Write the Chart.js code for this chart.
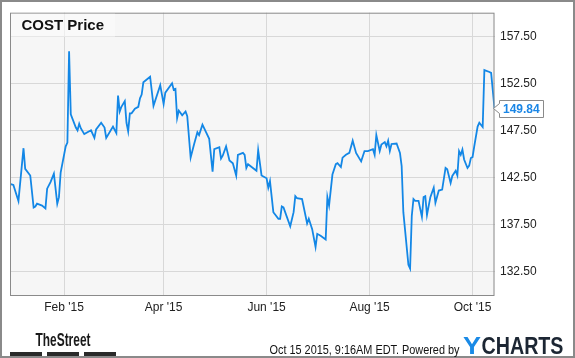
<!DOCTYPE html>
<html>
<head>
<meta charset="utf-8">
<script src="https://cdn.jsdelivr.net/npm/chart.js@4.4.1/dist/chart.umd.min.js"></script>
<style>
html,body{margin:0;padding:0;background:#fff;}
#wrap{position:relative;width:575px;height:358px;}
</style>
</head>
<body>
<div id="wrap"><canvas id="c"></canvas></div>
<script>
const title = "COST Price";
const lastLabel = "149.84";
const footerText = "Oct 15 2015, 9:16AM EDT. Powered by";

const dates = [
"2014-12-31","2015-01-02","2015-01-05","2015-01-08","2015-01-09","2015-01-12","2015-01-14","2015-01-15","2015-01-16","2015-01-19",
"2015-01-21","2015-01-22","2015-01-24","2015-01-26","2015-01-28","2015-01-29","2015-01-30","2015-02-02","2015-02-03","2015-02-04",
"2015-02-05","2015-02-08","2015-02-09","2015-02-10","2015-02-11","2015-02-13","2015-02-17","2015-02-19","2015-02-20","2015-02-23",
"2015-02-25","2015-02-26","2015-03-02","2015-03-04","2015-03-05","2015-03-06","2015-03-07","2015-03-09","2015-03-10","2015-03-11",
"2015-03-12","2015-03-13","2015-03-15","2015-03-17","2015-03-18","2015-03-19","2015-03-20","2015-03-24","2015-03-26","2015-03-30",
"2015-04-01","2015-04-02","2015-04-06","2015-04-07","2015-04-08","2015-04-09","2015-04-10","2015-04-12","2015-04-14","2015-04-15",
"2015-04-17","2015-04-19","2015-04-21","2015-04-22","2015-04-24","2015-04-28","2015-04-30","2015-05-01","2015-05-04","2015-05-05",
"2015-05-06","2015-05-08","2015-05-10","2015-05-12","2015-05-14","2015-05-15","2015-05-18","2015-05-19","2015-05-20","2015-05-21",
"2015-05-26","2015-05-27","2015-05-29","2015-06-01","2015-06-02","2015-06-03","2015-06-05","2015-06-08","2015-06-09","2015-06-10",
"2015-06-11","2015-06-15","2015-06-17","2015-06-18","2015-06-19","2015-06-22","2015-06-25","2015-06-26","2015-06-28","2015-06-30",
"2015-07-01","2015-07-03","2015-07-06","2015-07-07","2015-07-08","2015-07-10","2015-07-12","2015-07-13","2015-07-15","2015-07-16",
"2015-07-18","2015-07-20","2015-07-22","2015-07-24","2015-07-27","2015-07-29","2015-07-31","2015-08-03","2015-08-04","2015-08-05",
"2015-08-07","2015-08-08","2015-08-10","2015-08-11","2015-08-12","2015-08-13","2015-08-14","2015-08-17","2015-08-19","2015-08-20",
"2015-08-21","2015-08-24","2015-08-25","2015-08-26","2015-08-27","2015-08-28","2015-08-30","2015-09-01","2015-09-02","2015-09-03",
"2015-09-04","2015-09-06","2015-09-08","2015-09-09","2015-09-11","2015-09-13","2015-09-15","2015-09-16","2015-09-18","2015-09-19",
"2015-09-21","2015-09-22","2015-09-23","2015-09-24","2015-09-25","2015-09-26","2015-09-28","2015-09-29","2015-09-30","2015-10-01",
"2015-10-02","2015-10-04","2015-10-05","2015-10-07","2015-10-08","2015-10-11","2015-10-12","2015-10-14"
];
const prices = [
141.8,141.7,140.0,145.6,143.4,142.7,139.3,139.4,139.7,139.5,
139.2,141.3,142.0,142.9,139.7,140.4,143.0,145.8,146.2,155.9,
149.2,147.8,147.5,148.2,147.7,147.1,147.5,146.7,147.6,148.3,
147.8,146.7,147.9,147.2,151.2,149.5,150.0,150.6,148.3,147.4,
149.3,149.3,149.8,150.0,150.9,151.3,152.6,153.2,150.1,152.3,
150.3,151.5,152.5,151.8,151.9,148.8,149.6,149.1,149.5,149.0,
144.6,146.0,147.3,147.0,148.1,146.6,143.1,145.5,145.7,144.5,
144.8,145.8,144.3,144.0,142.7,144.9,145.1,144.9,143.5,143.9,
143.2,145.4,142.7,142.4,141.4,142.1,138.8,138.1,138.1,139.4,
139.3,137.3,138.8,140.5,140.3,140.2,137.6,138.1,137.0,135.1,
136.5,136.3,135.9,140.4,139.5,142.8,143.9,144.0,143.6,144.6,
144.9,145.1,146.4,145.1,144.2,145.3,145.3,145.5,144.9,147.0,
145.3,146.0,146.25,145.8,146.4,145.3,146.05,146.1,145.1,143.7,
138.8,133.2,132.8,138.4,140.2,140.0,140.0,138.3,140.4,140.5,
138.5,140.4,141.4,139.8,141.1,141.2,143.5,143.35,141.9,142.65,
143.2,142.7,145.3,144.9,145.45,144.4,143.5,143.75,144.56,144.65,
145.8,147.9,148.3,147.85,153.9,153.7,153.6,149.84
];
const xTickDates = ["2015-02-01","2015-04-01","2015-06-01","2015-08-01","2015-10-01"];
const xTickLabels = ["Feb '15","Apr '15","Jun '15","Aug '15","Oct '15"];
const yTicks = [132.5,137.5,142.5,147.5,152.5,157.5];

function dayOf(s){
  const p = s.split("-").map(Number);
  return Math.round((Date.UTC(p[0],p[1]-1,p[2]) - Date.UTC(2015,0,1)) / 86400000);
}
const points = dates.map((d,i)=>({x:dayOf(d), y:prices[i]}));
const xTickVals = xTickDates.map(dayOf);

const FONT = "'Liberation Sans', Arial, Helvetica, sans-serif";

function fitText(ctx, text, x, baseline, width, font, color){
  ctx.save();
  ctx.font = font;
  const w = ctx.measureText(text).width;
  ctx.translate(x, baseline);
  ctx.scale(width / w, 1);
  ctx.fillStyle = color;
  ctx.textBaseline = "alphabetic";
  ctx.textAlign = "left";
  ctx.fillText(text, 0, 0);
  ctx.restore();
}

const deco = {
  id: "deco",
  beforeDraw(chart){
    const ctx = chart.ctx, a = chart.chartArea;
    ctx.save();
    ctx.fillStyle = "#ffffff";
    ctx.fillRect(0,0,chart.width,chart.height);
    ctx.fillStyle = "#f6f6f6";
    ctx.fillRect(a.left, a.top, a.right-a.left, a.bottom-a.top);
    ctx.restore();
  },
  afterDraw(chart){
    const ctx = chart.ctx, a = chart.chartArea;
    ctx.save();
    // plot border
    ctx.strokeStyle = "#8a8a8a";
    ctx.lineWidth = 1;
    ctx.strokeRect(a.left+0.5, a.top+0.5, a.right-a.left-1, a.bottom-a.top);
    // title box
    ctx.fillStyle = "rgba(252,252,252,0.6)";
    ctx.fillRect(a.left+1, a.top+1, 104, 23);
    ctx.fillStyle = "#111";
    ctx.font = "bold 15px " + FONT;
    ctx.textBaseline = "alphabetic";
    ctx.fillText(title, 21.5, 29.5);
    // last value label
    const ys = chart.scales.y;
    const yy = Math.round(ys.getPixelForValue(prices[prices.length-1])) + 0.5;
    const bx = 499.5, bw = 44, bh = 17, by = yy - 8;
    ctx.fillStyle = "#ffffff";
    ctx.strokeStyle = "#8a8a8a";
    ctx.beginPath();
    ctx.moveTo(bx, by);
    ctx.lineTo(bx+bw, by);
    ctx.lineTo(bx+bw, by+bh);
    ctx.lineTo(bx, by+bh);
    ctx.lineTo(bx, yy+5);
    ctx.lineTo(bx-6, yy);
    ctx.lineTo(bx, yy-5);
    ctx.closePath();
    ctx.fill();
    ctx.stroke();
    ctx.fillStyle = "#1a86e6";
    ctx.font = "bold 12px " + FONT;
    ctx.textBaseline = "middle";
    ctx.fillText(lastLabel, 503, yy+1);
    // outer border
    ctx.strokeStyle = "#8a8a8a";
    ctx.lineWidth = 2;
    ctx.strokeRect(1, 1, chart.width-2, chart.height-2);
    // footer: TheStreet
    fitText(ctx, "TheStreet", 35.5, 346, 55, "bold 18px " + FONT, "#1a1a1a");
    ctx.fillStyle = "#2a2a2a";
    ctx.fillRect(10, 352, 32, 4);
    ctx.fillRect(47, 352, 32, 4);
    ctx.fillRect(84, 352, 32, 4);
    // footer text
    fitText(ctx, footerText, 269.5, 354, 190, "12px " + FONT, "#111");
    // YCHARTS
    fitText(ctx, "Y", 463, 354.3, 18, "bold 23px " + FONT, "#1a8ae6");
    fitText(ctx, "CHARTS", 481.5, 354.3, 82, "bold 23px " + FONT, "#1c2633");
    ctx.restore();
  }
};

new Chart(document.getElementById("c"), {
  type: "line",
  data: {
    datasets: [{
      data: points,
      borderColor: "#1387e6",
      borderWidth: 1.8,
      pointRadius: 0,
      tension: 0,
      fill: false
    }]
  },
  options: {
    responsive: true,
    maintainAspectRatio: false,
    animation: false,
    devicePixelRatio: 1,
    layout: { padding: { left: 10, top: 10, right: 0, bottom: 0 } },
    plugins: { legend: { display: false }, tooltip: { enabled: false }, title: { display: false } },
    scales: {
      x: {
        type: "linear",
        min: dayOf(dates[0]),
        max: dayOf(dates[dates.length-1]),
        afterBuildTicks(scale){ scale.ticks = xTickVals.map(v=>({value:v})); },
        afterFit(scale){ scale.height = 63; },
        ticks: {
          autoSkip: false, maxRotation: 0, padding: 5,
          color: "#222", font: { family: FONT, size: 12 },
          callback(v){ const i = xTickVals.indexOf(v); return i >= 0 ? xTickLabels[i] : ""; }
        },
        grid: { color: "#d8d8d8", lineWidth: 1, drawTicks: false },
        border: { display: false }
      },
      y: {
        position: "right",
        min: 130, max: 160,
        afterBuildTicks(scale){ scale.ticks = yTicks.map(v=>({value:v})); },
        afterFit(scale){ scale.width = 80.5; },
        ticks: {
          padding: 5.5, color: "#222", font: { family: FONT, size: 12 },
          callback(v){ return Number(v).toFixed(2); }
        },
        grid: { color: "#d8d8d8", lineWidth: 1, drawTicks: false },
        border: { display: false }
      }
    }
  },
  plugins: [deco]
});
</script>
</body>
</html>
